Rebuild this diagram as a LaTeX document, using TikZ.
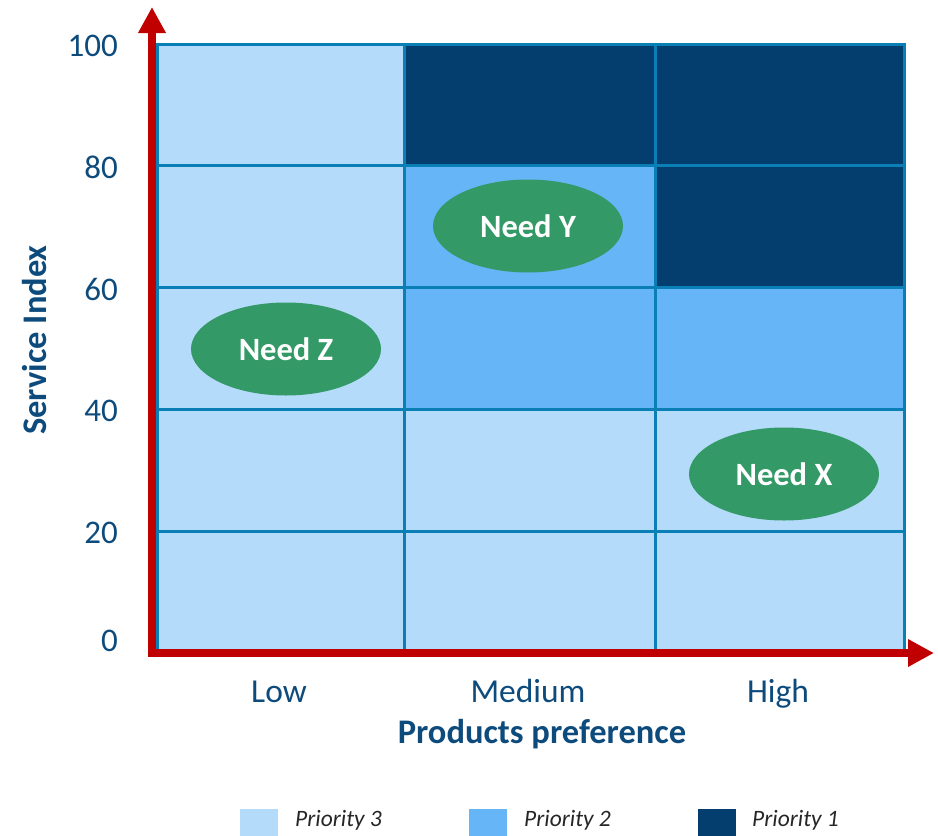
\documentclass[tikz,border=0pt]{standalone}
\usepackage{fontspec}
\setmainfont{Carlito}
\usetikzlibrary{arrows.meta,shapes.geometric}
\definecolor{pthree}{HTML}{B4DCFA}
\definecolor{ptwo}{HTML}{66B5F7}
\definecolor{pone}{HTML}{033E6F}
\definecolor{gridc}{HTML}{0A7FB5}
\definecolor{axisred}{HTML}{C00000}
\definecolor{needg}{HTML}{339966}
\definecolor{labc}{HTML}{0E4B7D}
\tikzset{
  cell/.style={draw=gridc, line width=3pt},
  axisline/.style={draw=axisred, line width=8pt, -{Triangle[length=26pt,width=26pt]}},
  needbox/.style={ellipse, fill=needg, minimum width=190pt, minimum height=93pt, inner sep=0pt,
    text=white, font=\fontsize{32.5}{36}\selectfont\bfseries},
  ticklab/.style={anchor=east, text=labc, font=\fontsize{33}{36}\selectfont, inner sep=0pt},
  catlab/.style={anchor=base, text=labc, font=\fontsize{33.5}{36}\selectfont, inner sep=0pt},
  titlelab/.style={text=labc, font=\fontsize{34.5}{38}\selectfont\bfseries, inner sep=0pt},
  legsq/.style={minimum width=38pt, minimum height=27pt, inner sep=0pt, anchor=north west},
  legtxt/.style={anchor=west, text=black!85, font=\fontsize{23.5}{26}\selectfont\itshape, inner sep=0pt}
}
\begin{document}
\begin{tikzpicture}[x=1pt,y=-1pt]
\useasboundingbox (0,0) rectangle (938,836);
% cells
\def\xa{157}\def\xb{404}\def\xc{655}\def\xd{904}
% row 1 (80-100)
\path[cell, fill=pthree] (\xa,44) rectangle (\xb,165);
\path[cell, fill=pone] (\xb,44) rectangle (\xc,165);
\path[cell, fill=pone] (\xc,44) rectangle (\xd,165);
% row 2 (60-80)
\path[cell, fill=pthree] (\xa,165) rectangle (\xb,287);
\path[cell, fill=ptwo] (\xb,165) rectangle (\xc,287);
\path[cell, fill=pone] (\xc,165) rectangle (\xd,287);
% row 3 (40-60)
\path[cell, fill=pthree] (\xa,287) rectangle (\xb,409);
\path[cell, fill=ptwo] (\xb,287) rectangle (\xc,409);
\path[cell, fill=ptwo] (\xc,287) rectangle (\xd,409);
% row 4 (20-40)
\path[cell, fill=pthree] (\xa,409) rectangle (\xb,531);
\path[cell, fill=pthree] (\xb,409) rectangle (\xc,531);
\path[cell, fill=pthree] (\xc,409) rectangle (\xd,531);
% row 5 (0-20)
\path[cell, fill=pthree] (\xa,531) rectangle (\xb,653);
\path[cell, fill=pthree] (\xb,531) rectangle (\xc,653);
\path[cell, fill=pthree] (\xc,531) rectangle (\xd,653);
% axes
\coordinate (origin) at (152,653);
\coordinate (ytip) at (152,7);
\coordinate (xstart) at (148,653);
\coordinate (xtip) at (934,653);
\draw[axisline] (origin) -- (ytip);
\draw[axisline] (xstart) -- (xtip);
% needs
\node[needbox] (needY) at (528,226) {Need Y};
\node[needbox] (needZ) at (286,349) {Need Z};
\node[needbox] (needX) at (784,474) {Need X};
% ticks
\node[ticklab] (t100) at (118,46) {100};
\node[ticklab] (t80) at (118,167) {80};
\node[ticklab] (t60) at (118,289) {60};
\node[ticklab] (t40) at (118,411) {40};
\node[ticklab] (t20) at (118,533) {20};
\node[ticklab] (t0) at (118,641) {0};
% categories
\node[catlab] (low) at (279,702) {Low};
\node[catlab] (med) at (528,702) {Medium};
\node[catlab] (high) at (778,702) {High};
\node[titlelab, anchor=base] (xtitle) at (542,743) {Products preference};
\node[titlelab, rotate=90] (ytitle) at (35,340) {Service Index};
% legend
\node[legsq, fill=pthree] (l3) at (240,809) {};
\node[legtxt] (l3t) at (295,820) {Priority 3};
\node[legsq, fill=ptwo] (l2) at (469,809) {};
\node[legtxt] (l2t) at (524,820) {Priority 2};
\node[legsq, fill=pone] (l1) at (698,809) {};
\node[legtxt] (l1t) at (752,820) {Priority 1};
\end{tikzpicture}
\end{document}
